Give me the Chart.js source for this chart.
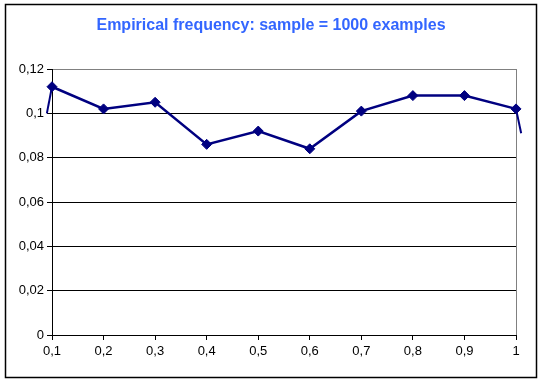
<!DOCTYPE html>
<html>
<head>
<meta charset="utf-8">
<script src="https://cdn.jsdelivr.net/npm/chart.js@4"></script>
<style>
  html, body { margin: 0; padding: 0; background: #fff; }
  #wrap { width: 542px; height: 383px; }
</style>
</head>
<body>
<div id="wrap"><canvas id="freq-chart" width="542" height="383"></canvas></div>
<script>
const titleText = "Empirical frequency: sample = 1000 examples";
const xValues = [0.1, 0.2, 0.3, 0.4, 0.5, 0.6, 0.7, 0.8, 0.9, 1];
const frequencies = [0.112, 0.102, 0.105, 0.086, 0.092, 0.084, 0.101, 0.108, 0.108, 0.102];
// smoothing overshoot at both ends, as drawn in the original
const leftTailX = [0.1, 0.09];
const leftTailY = [0.112, 0.1];
const rightTailX = [1, 1.01];
const rightTailY = [0.102, 0.091];

const toPoints = (xs, ys) => xs.map((x, i) => ({ x, y: ys[i] }));
const navy = "#000080";

const frameBorder = {
  id: "frameBorder",
  beforeDraw(chart) {
    const ctx = chart.ctx;
    ctx.save();
    ctx.fillStyle = "#fff";
    ctx.fillRect(0, 0, chart.width, chart.height);
    ctx.strokeStyle = "#000";
    ctx.lineWidth = 1.5;
    ctx.strokeRect(5.5, 4.5, 531, 373);
    // title, centred on the whole frame
    ctx.fillStyle = "#3366ff";
    ctx.font = "bold 16px 'Liberation Sans', Arial, sans-serif";
    ctx.textAlign = "center";
    ctx.textBaseline = "middle";
    ctx.fillText(titleText, 271, 26);
    ctx.restore();
  },
  beforeDatasetsDraw(chart) {
    const { ctx, chartArea } = chart;
    ctx.save();
    ctx.strokeStyle = "#808080";
    ctx.lineWidth = 1;
    ctx.beginPath();
    ctx.moveTo(chartArea.right + 0.5, chartArea.top);
    ctx.lineTo(chartArea.right + 0.5, chartArea.bottom);
    ctx.stroke();
    ctx.restore();
  },
};

const tailStyle = {
  borderColor: navy,
  borderWidth: 2,
  pointRadius: 0,
  tension: 0,
  clip: false,
};

new Chart(document.getElementById("freq-chart"), {
  type: "line",
  data: {
    datasets: [
      {
        label: "frequency",
        data: toPoints(xValues, frequencies),
        borderColor: navy,
        backgroundColor: navy,
        borderWidth: 2.5,
        pointStyle: "rectRot",
        pointRadius: 5,
        pointBorderWidth: 1,
        tension: 0,
        clip: false,
      },
      { data: toPoints(leftTailX, leftTailY), ...tailStyle },
      { data: toPoints(rightTailX, rightTailY), ...tailStyle },
    ],
  },
  options: {
    responsive: false,
    animation: false,
    devicePixelRatio: 1,
    layout: { padding: { left: 0, right: 26, top: 69, bottom: 0 } },
    plugins: {
      legend: { display: false },
      tooltip: { enabled: false },
      title: { display: false },
    },
    scales: {
      x: {
        type: "linear",
        min: 0.1,
        max: 1,
        afterFit: (s) => { s.height = 48; },
        ticks: {
          stepSize: 0.1,
          color: "#000",
          padding: 4,
          maxRotation: 0,
          font: { family: "Liberation Sans", size: 13 },
          callback: (v) => String(Math.round(v * 10) / 10).replace(".", ","),
        },
        grid: {
          drawOnChartArea: false,
          drawTicks: true,
          tickLength: 5,
          tickColor: "#000",
        },
        border: { color: "#000", width: 1 },
      },
      y: {
        min: 0,
        max: 0.12,
        afterFit: (s) => { s.width = 52; },
        ticks: {
          stepSize: 0.02,
          color: "#000",
          padding: 3,
          font: { family: "Liberation Sans", size: 13 },
          callback: (v) => String(Math.round(v * 100) / 100).replace(".", ","),
        },
        grid: {
          color: (c) => (c.tick && Math.abs(c.tick.value - 0.12) < 1e-6 ? "#808080" : "#000"),
          tickColor: "#000",
          tickLength: 5,
          lineWidth: 1,
        },
        border: { color: "#000", width: 1 },
      },
    },
  },
  plugins: [frameBorder],
});
</script>
</body>
</html>
